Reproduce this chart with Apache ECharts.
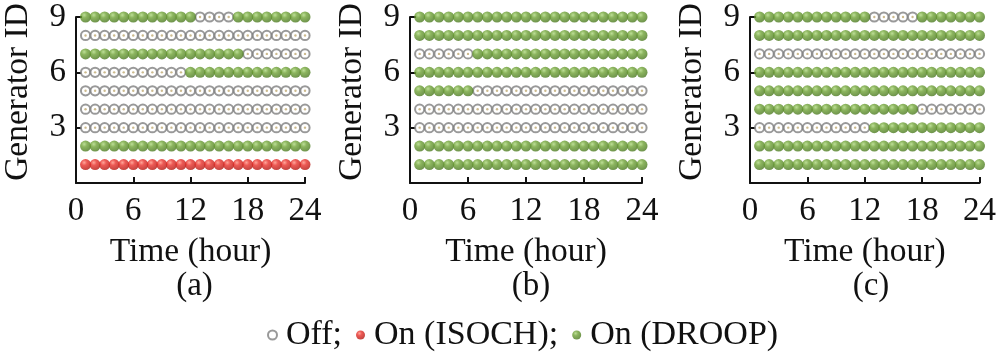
<!DOCTYPE html>
<html><head><meta charset="utf-8">
<script src="https://cdn.jsdelivr.net/npm/echarts@6/dist/echarts.min.js"></script>
<style>html,body{margin:0;padding:0;background:#fff}#c{width:999px;height:357px}</style>
</head><body><div id="c"></div>
<script>
// ---- data ----
const hours = [1,2,3,4,5,6,7,8,9,10,11,12,13,14,15,16,17,18,19,20,21,22,23,24];
const generators = [1,2,3,4,5,6,7,8,9];
const xTickLabels = [0,6,12,18,24];
const yTickLabels = [3,6,9];
const panelLabels = ['(a)','(b)','(c)'];
const legendNames = ['Off;','On (ISOCH);','On (DROOP)'];
// per generator (1..9), 24 hourly states: O = off, I = on (ISOCH), D = on (DROOP)
const statesA = [
  'IIIIII IIIIII IIIIII IIIIII', // G1
  'DDDDDD DDDDDD DDDDDD DDDDDD', // G2
  'OOOOOO OOOOOO OOOOOO OOOOOO', // G3
  'OOOOOO OOOOOO OOOOOO OOOOOO', // G4
  'OOOOOO OOOOOO OOOOOO OOOOOO', // G5
  'OOOOOO OOOOOD DDDDDD DDDDDD', // G6
  'DDDDDD DDDDDD DDDDDO OOOOOO', // G7
  'OOOOOO OOOOOO OOOOOO OOOOOO', // G8
  'DDDDDD DDDDDD OOOODD DDDDDD'  // G9
];
const statesB = [
  'DDDDDD DDDDDD DDDDDD DDDDDD', // G1
  'DDDDDD DDDDDD DDDDDD DDDDDD', // G2
  'OOOOOO OOOOOO OOOOOO OOOOOO', // G3
  'OOOOOO OOOOOO OOOOOO OOOOOO', // G4
  'DDDDDD OOOOOO OOOOOO OOOOOO', // G5
  'DDDDDD DDDDDD DDDDDD DDDDDD', // G6
  'OOOOOO DDDDDD DDDDDD DDDDDD', // G7
  'DDDDDD DDDDDD DDDDDD DDDDDD', // G8
  'DDDDDD DDDDDD DDDDDD DDDDDD'  // G9
];
const statesC = [
  'DDDDDD DDDDDD DDDDDD DDDDDD', // G1
  'DDDDDD DDDDDD DDDDDD DDDDDD', // G2
  'OOOOOO OOOOOO DDDDDD DDDDDD', // G3
  'DDDDDD DDDDDD DDDDDO OOOOOO', // G4
  'DDDDDD DDDDDD DDDDDD DDDDDD', // G5
  'DDDDDD DDDDDD DDDDDD DDDDDD', // G6
  'OOOOOO OOOOOO OOOOOO OOOOOO', // G7
  'DDDDDD DDDDDD DDDDDD DDDDDD', // G8
  'DDDDDD DDDDDD OOOOOD DDDDDD'  // G9
];
const panels = [statesA, statesB, statesC];

// ---- chart ----
const FONT = '"Liberation Serif","Times New Roman",serif';
const grids = [
  {left: 74, width: 231, top: 17, height: 166},
  {left: 410, width: 232, top: 17, height: 166},
  {left: 750, width: 232, top: 17, height: 166}
];
const green = new echarts.graphic.RadialGradient(0.38, 0.32, 0.72, [
  {offset: 0, color: '#acd67c'}, {offset: 0.36, color: '#6fa236'}, {offset: 1, color: '#48761e'}]);
const red = new echarts.graphic.RadialGradient(0.38, 0.32, 0.72, [
  {offset: 0, color: '#ff8f80'}, {offset: 0.36, color: '#e8302a'}, {offset: 1, color: '#b0150f'}]);

function pts(states, code) {
  const out = [];
  states.forEach((row, gi) => {
    const s = row.replace(/ /g, '');
    hours.forEach((h, hi) => { if (s[hi] === code) out.push([h, generators[gi]]); });
  });
  return out;
}

const xAxes = [], yAxes = [], series = [], titles = [];
grids.forEach((g, i) => {
  xAxes.push({
    gridIndex: i, type: 'value', min: 0, max: 24, interval: 6,
    name: 'Time (hour)', nameLocation: 'middle', nameGap: 52,
    nameTextStyle: {fontFamily: FONT, fontSize: 33.5, color: '#111'},
    axisLine: {lineStyle: {color: '#111', width: 2}},
    axisTick: {inside: true, length: 6, lineStyle: {color: '#111', width: 2}},
    axisLabel: {fontFamily: FONT, fontSize: 33, color: '#111', margin: 12,
      formatter: v => xTickLabels.includes(v) ? String(v) : ''},
    splitLine: {show: false}
  });
  yAxes.push({
    gridIndex: i, type: 'value', min: 0, max: 9, interval: 3,
    name: 'Generator ID', nameLocation: 'middle', nameGap: 41,
    nameTextStyle: {fontFamily: FONT, fontSize: 33.5, color: '#111', padding: [0, 0, 0, 16]},
    axisLine: {lineStyle: {color: '#111', width: 2}},
    axisTick: {inside: true, length: 6, lineStyle: {color: '#111', width: 2}},
    axisLabel: {fontFamily: FONT, fontSize: 33, color: '#111', margin: 10,
      formatter: v => yTickLabels.includes(v) ? String(v) : ''},
    splitLine: {show: false}
  });
  titles.push({
    text: panelLabels[i], left: g.left + g.width / 2, top: 265, textAlign: 'center',
    textStyle: {fontFamily: FONT, fontSize: 33, fontWeight: 'normal', color: '#111'}
  });
  const st = panels[i];
  series.push({
    type: 'scatter', name: legendNames[0], xAxisIndex: i, yAxisIndex: i, clip: false,
    symbol: 'circle', symbolSize: 9.2, data: pts(st, 'O'),
    itemStyle: {color: '#ffffff', borderColor: '#808080', borderWidth: 2}
  });
  series.push({
    type: 'scatter', name: 'offdot', xAxisIndex: i, yAxisIndex: i, clip: false,
    symbol: 'circle', symbolSize: 2.4, data: pts(st, 'O'), silent: true,
    itemStyle: {color: '#bfa970'}
  });
  series.push({
    type: 'scatter', name: legendNames[1], xAxisIndex: i, yAxisIndex: i, clip: false,
    symbol: 'circle', symbolSize: 11, data: pts(st, 'I'),
    itemStyle: {color: red}
  });
  series.push({
    type: 'scatter', name: legendNames[2], xAxisIndex: i, yAxisIndex: i, clip: false,
    symbol: 'circle', symbolSize: 11, data: pts(st, 'D'),
    itemStyle: {color: green}
  });
});

const chart = echarts.init(document.getElementById('c'), null, {renderer: 'canvas'});
chart.setOption({
  animation: false,
  backgroundColor: '#fff',
  title: titles,
  grid: grids,
  xAxis: xAxes,
  yAxis: yAxes,
  legend: {
    data: legendNames, left: 262, top: 313, icon: 'circle',
    itemWidth: 17, itemHeight: 9, itemGap: 14,
    textStyle: {fontFamily: FONT, fontSize: 34, color: '#111'}
  },
  series: series
});
</script></body></html>
